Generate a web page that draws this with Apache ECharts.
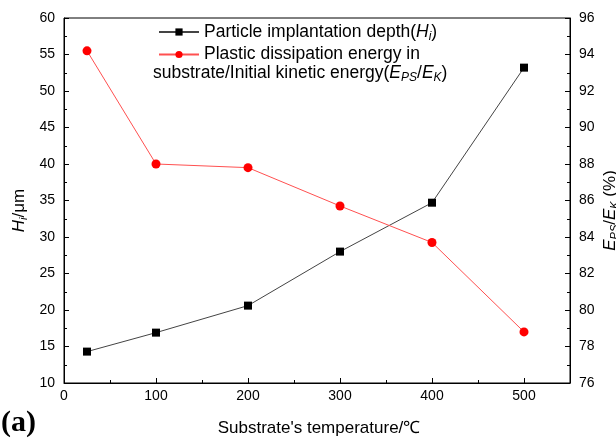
<!DOCTYPE html>
<html>
<head>
<meta charset="utf-8">
<script src="https://cdn.jsdelivr.net/npm/echarts@6/dist/echarts.min.js"></script>
<style>
html,body{margin:0;padding:0;background:#fff;}
#c{width:616px;height:442px;}
</style>
</head>
<body>
<div id="c"></div>
<script>
const temperatures = [25, 100, 200, 300, 400, 500];
const depthHi = [14.3, 16.9, 20.6, 28.0, 34.7, 53.2];
const energyRatio = [94.2, 88.0, 87.8, 85.7, 83.7, 78.8];

const FONT = '"Liberation Sans", Arial, sans-serif';
const chart = echarts.init(document.getElementById('c'), null, {renderer: 'canvas'});

const tickStyle = {color: '#000', fontFamily: FONT, fontSize: 14};
function mkRich(fs, ss, pad) {
  return {
    n: {fontFamily: FONT, fontSize: fs, color: '#000'},
    i: {fontFamily: FONT, fontSize: fs, fontStyle: 'italic', color: '#000'},
    s: {fontFamily: FONT, fontSize: ss, fontStyle: 'italic', color: '#000', padding: [pad, 0, 0, 0]}
  };
}
const legRich = mkRich(17.5, 12, 9);

chart.setOption({
  animation: false,
  backgroundColor: '#fff',
  grid: {left: 64, right: 46, top: 18, bottom: 59, show: true, borderColor: '#000', borderWidth: 1,
         containLabel: false, outerBoundsMode: 'none'},
  legend: {
    left: 153, top: 18, orient: 'vertical', itemGap: 3,
    itemWidth: 40, itemHeight: 9,
    textStyle: {rich: legRich, fontFamily: FONT, fontSize: 17.5, color: '#000'},
    formatter: function (name) {
      if (name === 'H') return '{n|Particle implantation depth(}{i|H}{s|i}{n|)}';
      return '{n|Plastic dissipation energy in}';
    },
    data: ['H', 'E']
  },
  graphic: [
    {type: 'text', left: 153, top: 64, style: {
      text: '{n|substrate/Initial kinetic energy(}{i|E}{s|PS}{n|/}{i|E}{s|K}{n|)}',
      rich: legRich
    }},
    {type: 'text', left: 1, top: 408, style: {
      text: '(a)', font: 'bold 30px "Liberation Serif", "Times New Roman", serif', fill: '#000'
    }}
  ],
  xAxis: {
    type: 'value', min: 0, max: 550, interval: 100,
    name: "Substrate's temperature/℃", nameLocation: 'middle', nameGap: 37, nameMoveOverlap: false,
    nameTextStyle: {fontFamily: FONT, fontSize: 17, color: '#000', padding: [0, 0, 0, 4]},
    axisLine: {lineStyle: {color: '#000', width: 1}},
    axisTick: {inside: true, length: 5, lineStyle: {color: '#000'}},
    minorTick: {show: true, splitNumber: 2, length: 3, lineStyle: {color: '#000'}},
    axisLabel: Object.assign({margin: 6, showMaxLabel: false}, tickStyle),
    splitLine: {show: false}
  },
  yAxis: [
    {
      type: 'value', min: 10, max: 60, interval: 5, position: 'left',
      name: '{i|H}{s|i}{n|/μm}', nameLocation: 'middle', nameGap: 35, nameRotate: 90, nameMoveOverlap: false,
      nameTextStyle: {rich: mkRich(17, 11, 9), padding: [0, 20, 0, 0]},
      axisLine: {show: true, lineStyle: {color: '#000', width: 1}},
      axisTick: {show: true, inside: true, length: 5, lineStyle: {color: '#000'}},
      minorTick: {show: true, splitNumber: 2, length: 3, lineStyle: {color: '#000'}},
      axisLabel: Object.assign({margin: 9}, tickStyle),
      splitLine: {show: false}
    },
    {
      type: 'value', min: 76, max: 96, interval: 2, position: 'right',
      name: '{i|E}{s|PS}{n|/}{i|E}{s|K}{n| (%)}', nameLocation: 'middle', nameGap: 30, nameRotate: 90, nameMoveOverlap: false,
      nameTextStyle: {rich: mkRich(17, 11, 9), padding: [0, 20, 0, 0]},
      axisLine: {show: true, lineStyle: {color: '#000', width: 1}},
      axisTick: {show: true, inside: true, length: 5, lineStyle: {color: '#000'}},
      minorTick: {show: true, splitNumber: 2, length: 3, lineStyle: {color: '#000'}},
      axisLabel: Object.assign({margin: 9}, tickStyle),
      splitLine: {show: false}
    }
  ],
  series: [
    {
      name: 'H', type: 'line', yAxisIndex: 0,
      data: temperatures.map((t, k) => [t, depthHi[k]]),
      symbol: 'rect', symbolSize: 8,
      lineStyle: {color: '#444', width: 1},
      itemStyle: {color: '#000'}
    },
    {
      name: 'E', type: 'line', yAxisIndex: 1,
      data: temperatures.map((t, k) => [t, energyRatio[k]]),
      symbol: 'circle', symbolSize: 9,
      lineStyle: {color: '#ff5050', width: 1},
      itemStyle: {color: '#ff0000'}
    }
  ]
});
</script>
</body>
</html>
